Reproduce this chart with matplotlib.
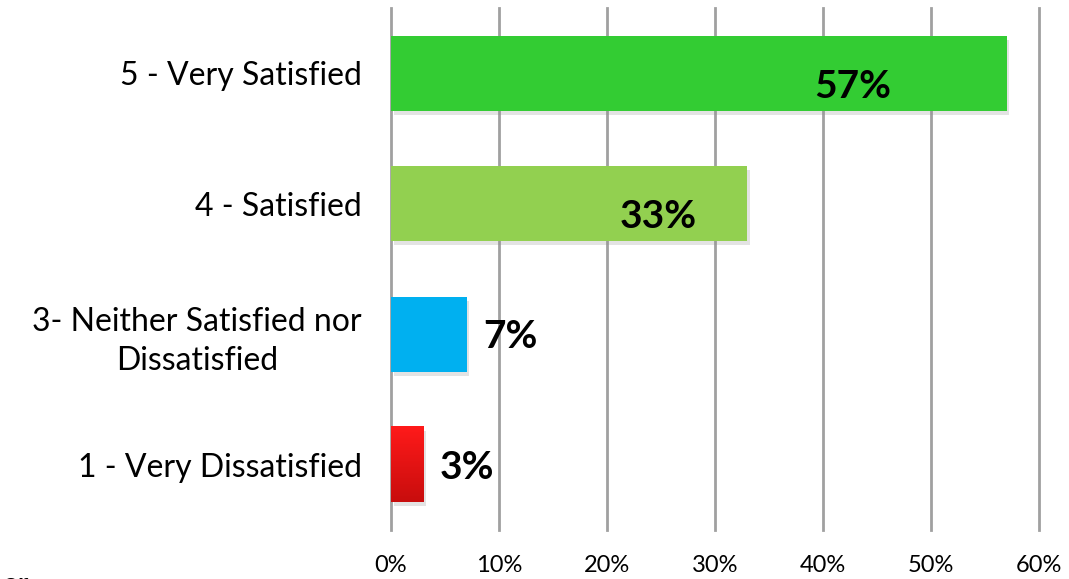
import matplotlib
matplotlib.use('Agg')
import matplotlib.pyplot as plt
import matplotlib.patheffects as pe
import numpy as np


# Survey results
categories = ['5 - Very Satisfied', '4 - Satisfied',
              '3- Neither Satisfied nor\nDissatisfied', '1 - Very Dissatisfied']
values = [57, 33, 7, 3]
colors = ['#33cc33', '#92d050', '#00b0f0', '#e81414']
xticks = [0, 10, 20, 30, 40, 50, 60]

plt.rcParams['font.family'] = ['Lato', 'DejaVu Sans']

fig = plt.figure(figsize=(10.69, 5.79), dpi=100)
ax = fig.add_axes([0.3658, 0.0846, 0.6062, 0.9016])

y = np.arange(len(categories))
shadow = [pe.SimplePatchShadow(offset=(2, -3), shadow_rgbFace='#909090', alpha=0.25), pe.Normal()]
bars = ax.barh(y, values, height=0.575, color=colors, zorder=3, path_effects=shadow)

# red bar gets a top-to-bottom gradient
red = bars[3]
grad = np.linspace(0, 1, 100).reshape(-1, 1)
cmap = matplotlib.colors.LinearSegmentedColormap.from_list('redgrad', ['#ff1a1a', '#c80d0d'])
x0, yb = red.get_x(), red.get_y()
ax.imshow(grad, cmap=cmap, aspect='auto', zorder=4,
          extent=(x0, x0 + red.get_width(), yb + red.get_height(), yb))

ax.set_xlim(0, 60)
ax.set_ylim(3.5, -0.5)
ax.set_xticks(xticks)
ax.set_xticklabels([f'{t}%' for t in xticks], fontsize=17)
ax.set_yticks(y)
ax.set_yticklabels(categories, fontsize=23, multialignment='center', linespacing=1.35)
ax.tick_params(axis='both', length=0)
ax.tick_params(axis='x', pad=18)
ax.tick_params(axis='y', pad=21)

for s in ax.spines.values():
    s.set_visible(False)
ax.grid(axis='x', color='#a0a0a0', linewidth=2, zorder=0)
ax.set_axisbelow(True)
for gl in ax.get_xgridlines():
    gl.set_clip_on(False)

# value labels
for i, v in enumerate(values):
    if v > 20:
        ax.text(v * 0.75, i + 0.1, f'{v}%', ha='center', va='center',
                fontsize=28, fontweight='bold', zorder=5)
    else:
        ax.text(v + 1.5, i + 0.02, f'{v}%', ha='left', va='center',
                fontsize=28, fontweight='bold', zorder=5)

fig.text(0.002, 0.012, 'or', ha='left', va='top', fontsize=20, fontweight='bold')

fig.savefig('out.png', dpi=100)
